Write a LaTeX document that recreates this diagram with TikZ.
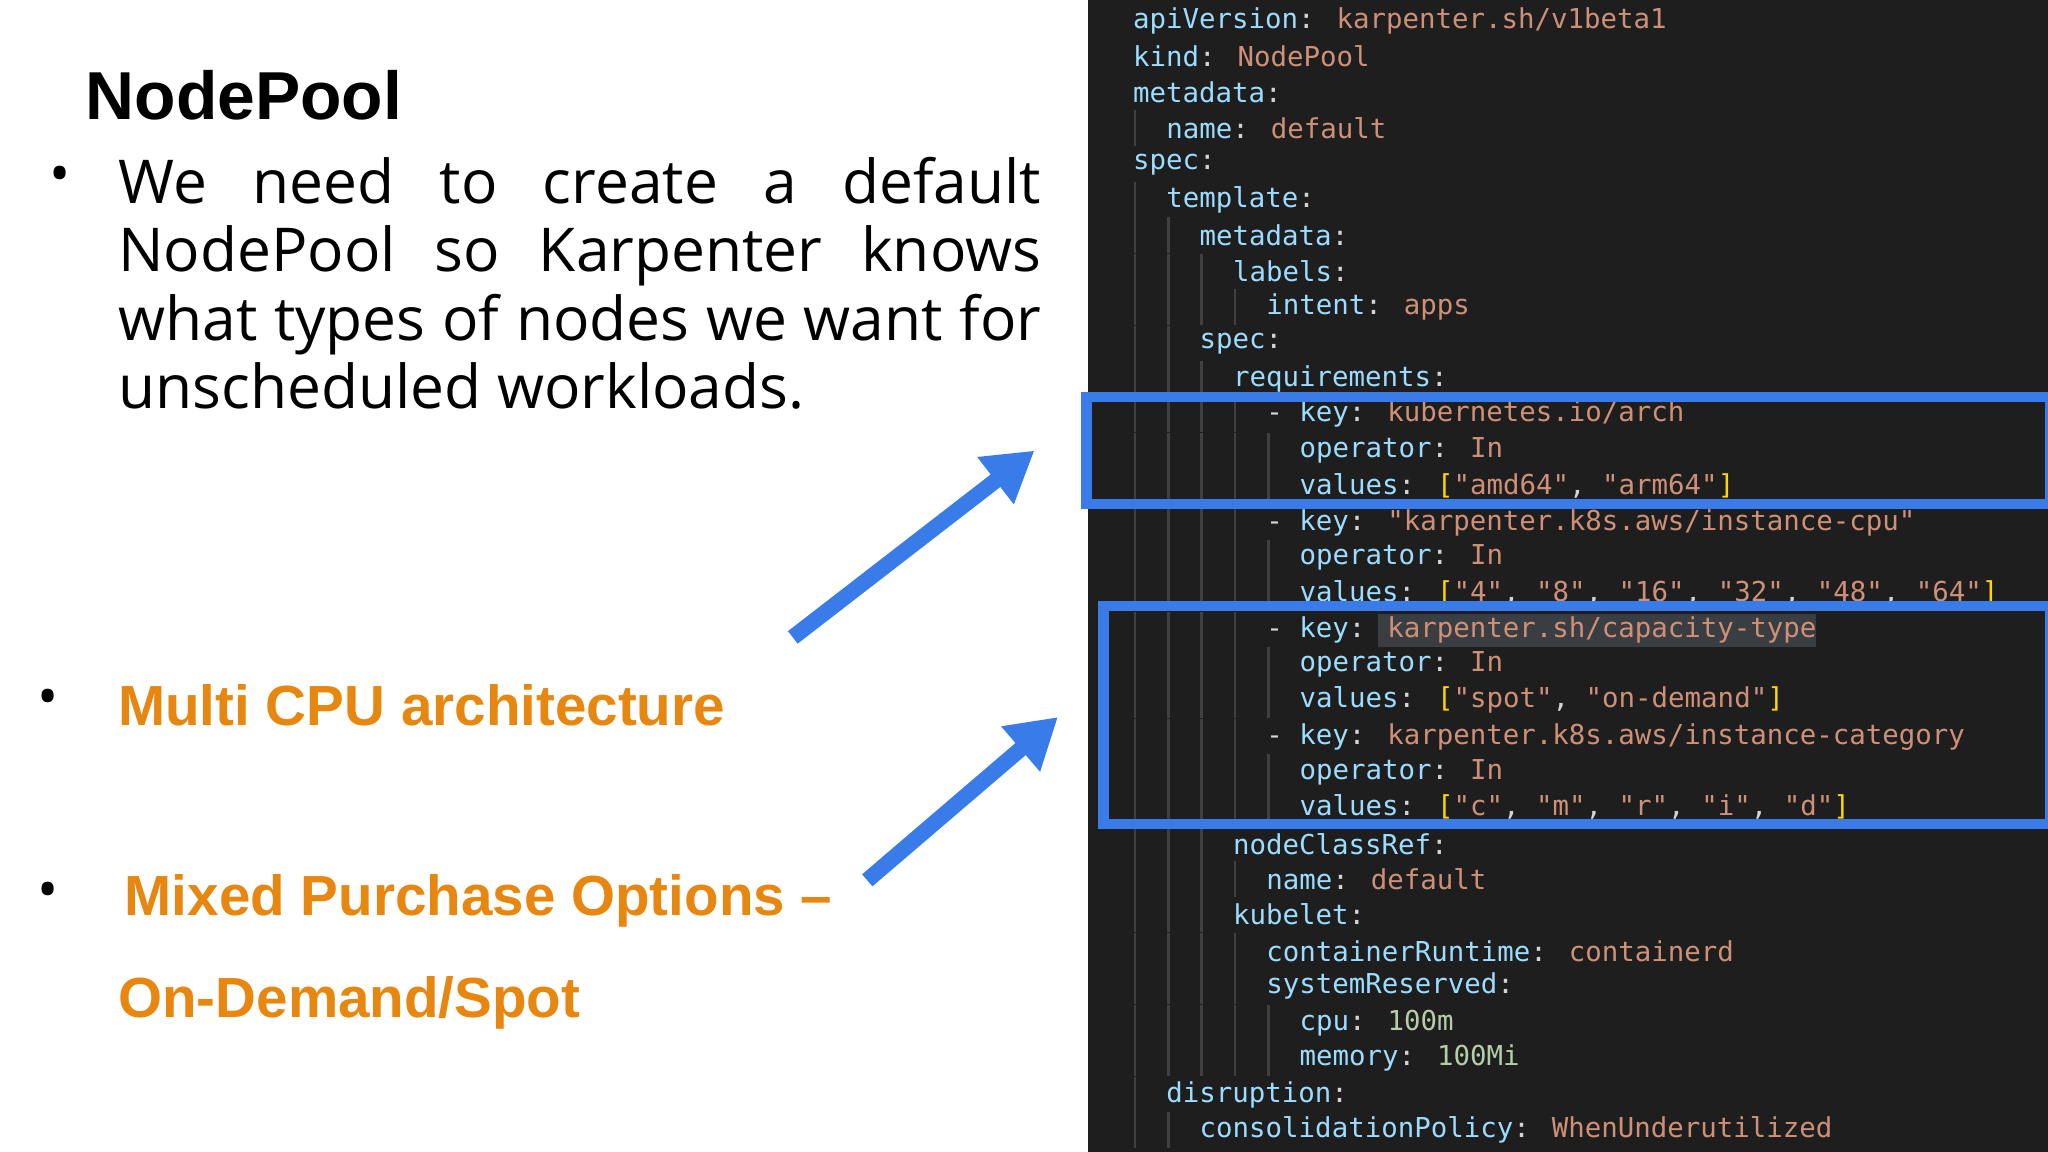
\documentclass[tikz,border=0pt]{standalone}
\usepackage{fontspec}
\setmainfont{Open Sans}
\newfontfamily\arial{Liberation Sans}
\newfontfamily\code{DejaVu Sans Mono}
\usetikzlibrary{arrows.meta}
\definecolor{ck}{HTML}{9CDCFE}
\definecolor{cs}{HTML}{CE9178}
\definecolor{cn}{HTML}{B5CEA8}
\definecolor{cb}{HTML}{FFD700}
\definecolor{cw}{HTML}{D4D4D4}
\definecolor{bg}{HTML}{1E1E1E}
\definecolor{guide}{HTML}{404040}
\definecolor{hl}{HTML}{3A3D41}
\definecolor{boxblue}{HTML}{3A7BEA}
\definecolor{org}{HTML}{E8870F}
\newcommand\K[1]{\textcolor{ck}{#1}\textcolor{cw}{:}}
\newcommand\V[1]{\textcolor{cs}{#1}}
\newcommand\N[1]{\textcolor{cn}{#1}}
\newcommand\B[1]{\textcolor{cb}{#1}}
\newcommand\cl[4]{% name, y, level, content
  \ifnum#3>0 \foreach \i in {1,...,#3}{\draw[guide,line width=0.8pt] ({867+25.5*(\i-1)+2},{#2-13.6}) -- ({867+25.5*(\i-1)+2},{#2+13.6});}\fi
  \node[codetxt] (#1) at ({867+25.5*#3},#2) {#4};}
\tikzset{codetxt/.style={anchor=west,inner sep=0pt,font=\code\fontsize{7.8}{9}\selectfont,text=cw},
  bluebox/.style={draw=boxblue,line width=3pt},
  bluearrow/.style={draw=boxblue,line width=4.5pt,-{Triangle[length=14pt,width=16pt]}},
  dot/.style={font=\fontsize{16}{16}\selectfont,inner sep=0pt},
  para/.style={anchor=base west,inner sep=0pt,font=\fontsize{17.2}{20}\selectfont},
  orange/.style={anchor=west,inner sep=0pt,text=org,font=\arial\bfseries\fontsize{16.1}{18}\selectfont}}
\begin{document}
\begin{tikzpicture}[x=0.013061cm,y=-0.013061cm]
\useasboundingbox (0,0) rectangle (1568,882);
\fill[white] (0,0) rectangle (833,882);
\fill[bg] (833,0) rectangle (1568,882);
% left text
\node[anchor=west,inner sep=0pt,font=\arial\bfseries\fontsize{19.3}{23}\selectfont] (title) at (65,73) {NodePool};
\node[dot] (b1) at (46,138) {•};
\node[para] (p1) at (90,156) {\makebox[9.23cm][s]{We need to create a default}};
\node[para] (p2) at (90,208) {\makebox[9.23cm][s]{NodePool so Karpenter knows}};
\node[para] (p3) at (90,261) {\makebox[9.23cm][s]{what types of nodes we want for}};
\node[para] (p4) at (90,313) {unscheduled workloads.};
\node[dot] (b2) at (37,538) {•};
\node[orange] (t1) at (90,540) {Multi CPU architecture};
\node[dot] (b3) at (37,686) {•};
\node[orange] (t2) at (95,690) {Mixed Purchase Options –};
\node[orange] (t3) at (90,768) {On-Demand/Spot};
\coordinate (a1s) at (607,488); \coordinate (a1e) at (792,345);
\coordinate (a2s) at (664,674); \coordinate (a2e) at (810,549);
\draw[bluearrow] (a1s) -- (a1e);
\draw[bluearrow] (a2s) -- (a2e);
% highlight
\fill[hl] (1055,470) rectangle (1390,495);
% code
\cl{l1}{16}{0}{\K{apiVersion} \V{karpenter.sh/v1beta1}}
\cl{l2}{43}{0}{\K{kind} \V{NodePool}}
\cl{l3}{71}{0}{\K{metadata}}
\cl{l4}{98}{1}{\K{name} \V{default}}
\cl{l5}{126}{0}{\K{spec}}
\cl{l6}{153}{1}{\K{template}}
\cl{l7}{180}{2}{\K{metadata}}
\cl{l8}{208}{3}{\K{labels}}
\cl{l9}{235}{4}{\K{intent} \V{apps}}
\cl{l10}{263}{2}{\K{spec}}
\cl{l11}{290}{3}{\K{requirements}}
\cl{l12}{317}{4}{- \K{key} \V{kubernetes.io/arch}}
\cl{l13}{345}{5}{\K{operator} \V{In}}
\cl{l14}{372}{5}{\K{values} \B{[}\V{"amd64"}, \V{"arm64"}\B{]}}
\cl{l15}{400}{4}{- \K{key} \V{"karpenter.k8s.aws/instance-cpu"}}
\cl{l16}{427}{5}{\K{operator} \V{In}}
\cl{l17}{454}{5}{\K{values} \B{[}\V{"4"}, \V{"8"}, \V{"16"}, \V{"32"}, \V{"48"}, \V{"64"}\B{]}}
\cl{l18}{482}{4}{- \K{key} \V{karpenter.sh/capacity-type}}
\cl{l19}{509}{5}{\K{operator} \V{In}}
\cl{l20}{536}{5}{\K{values} \B{[}\V{"spot"}, \V{"on-demand"}\B{]}}
\cl{l21}{564}{4}{- \K{key} \V{karpenter.k8s.aws/instance-category}}
\cl{l22}{591}{5}{\K{operator} \V{In}}
\cl{l23}{618}{5}{\K{values} \B{[}\V{"c"}, \V{"m"}, \V{"r"}, \V{"i"}, \V{"d"}\B{]}}
\cl{l24}{646}{3}{\K{nodeClassRef}}
\cl{l25}{673}{4}{\K{name} \V{default}}
\cl{l26}{700}{3}{\K{kubelet}}
\cl{l27}{728}{4}{\K{containerRuntime} \V{containerd}}
\cl{l28}{755}{4}{\K{systemReserved}}
\cl{l29}{783}{5}{\K{cpu} \N{100m}}
\cl{l30}{810}{5}{\K{memory} \N{100Mi}}
\cl{l31}{838}{1}{\K{disruption}}
\cl{l32}{865}{2}{\K{consolidationPolicy} \V{WhenUnderutilized}}
% boxes
\draw[bluebox] (832,304) rectangle (1570,386);
\draw[bluebox] (845,464) rectangle (1570,631);
\end{tikzpicture}
\end{document}
